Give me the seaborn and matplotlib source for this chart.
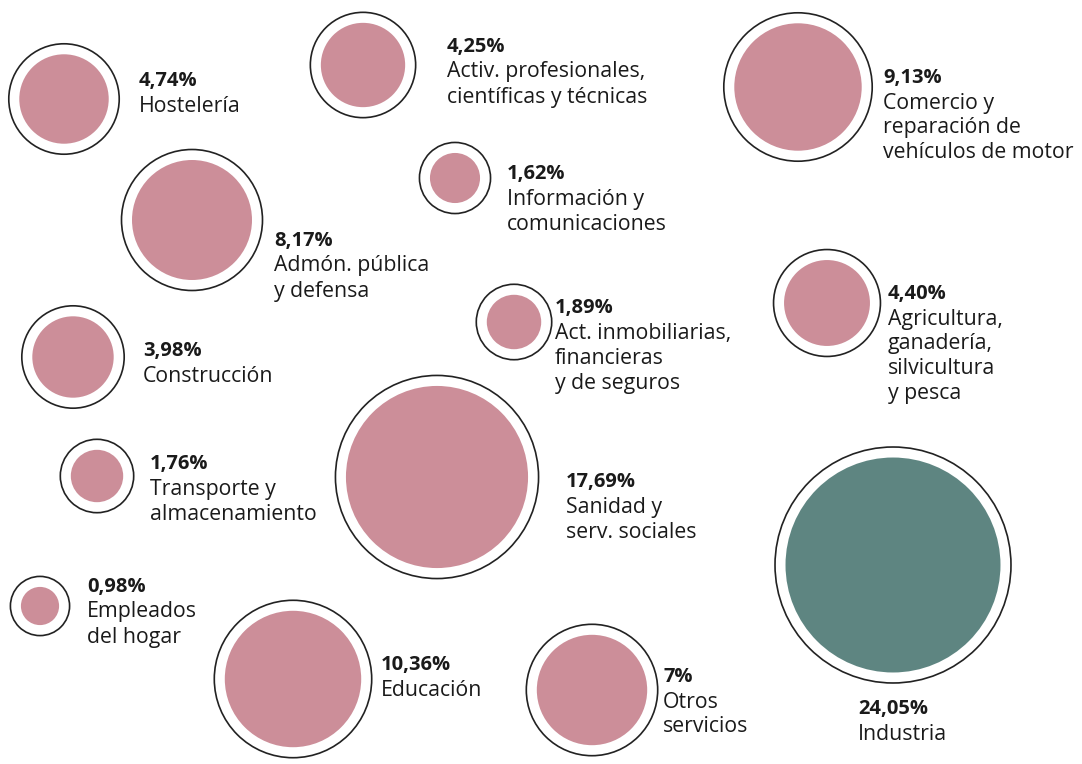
import matplotlib
matplotlib.use("Agg")
import matplotlib.pyplot as plt
import numpy as np
import pandas as pd
import seaborn as sns

# Datos: peso de cada sector (%)
sectores = [
    "Hostelería",
    "Activ. profesionales,\ncientíficas y técnicas",
    "Comercio y\nreparación de\nvehículos de motor",
    "Información y\ncomunicaciones",
    "Admón. pública\ny defensa",
    "Act. inmobiliarias,\nfinancieras\ny de seguros",
    "Agricultura,\nganadería,\nsilvicultura\ny pesca",
    "Construcción",
    "Transporte y\nalmacenamiento",
    "Sanidad y\nserv. sociales",
    "Industria",
    "Empleados\ndel hogar",
    "Educación",
    "Otros\nservicios",
]
porcentajes = [4.74, 4.25, 9.13, 1.62, 8.17, 1.89, 4.40, 3.98, 1.76, 17.69, 24.05, 0.98, 10.36, 7.0]
etiquetas_pct = ["4,74%", "4,25%", "9,13%", "1,62%", "8,17%", "1,89%", "4,40%",
                 "3,98%", "1,76%", "17,69%", "24,05%", "0,98%", "10,36%", "7%"]
destacado = ["no"] * 10 + ["si"] + ["no"] * 3

# Disposición de las burbujas (px) y de los textos
burbuja_x = [64, 363, 798, 455, 192, 514, 827, 73, 97, 437, 893, 40, 293, 592]
burbuja_y = [99, 65, 87, 178, 220, 322, 303, 357, 476, 477, 565, 606, 679, 690]
texto_x = [139, 447, 883, 507, 274, 555, 888, 143, 150, 566, 858, 87, 381, 663]
texto_y = [81, 47, 78, 174, 241, 308, 294, 351, 464, 482, 709, 587, 665, 677]

ROSA = "#cc8e99"
VERDE = "#5e8581"
K = 19.3       # escala del radio interior (px)
EXP = 0.54     # exponente de la escala de radio
ANILLO = 10.5  # separacion del anillo exterior
DPI = 100

df = pd.DataFrame({
    "sector": sectores,
    "pct": porcentajes,
    "x": burbuja_x,
    "y": burbuja_y,
    "destacado": destacado,
})
r_int = K * df["pct"].to_numpy() ** EXP
r_ext = r_int + ANILLO
# tamaño de marcador en puntos^2 a partir del radio en px
s_int = (2 * r_int * 72 / DPI) ** 2
s_ext = (2 * r_ext * 72 / DPI) ** 2

sns.set_theme(style="white")
plt.rcParams["font.family"] = ["Open Sans", "DejaVu Sans"]

fig = plt.figure(figsize=(10.82, 7.64), dpi=DPI)
ax = fig.add_axes([0, 0, 1, 1])

sns.scatterplot(data=df, x="x", y="y", s=s_ext, color="white",
                edgecolor="#222222", linewidth=1.2, ax=ax, legend=False)
sns.scatterplot(data=df, x="x", y="y", hue="destacado",
                palette={"no": ROSA, "si": VERDE}, s=s_int,
                linewidth=0, ax=ax, legend=False)

for i in range(len(df)):
    ax.text(texto_x[i], texto_y[i], etiquetas_pct[i], fontsize=14.5,
            fontweight="bold", color="#1a1a1a", ha="left", va="center")
    for j, linea in enumerate(sectores[i].split("\n")):
        ax.text(texto_x[i], texto_y[i] + 25 + 25 * j, linea, fontsize=15.3,
                color="#1a1a1a", ha="left", va="center")

ax.set_xlim(0, 1082)
ax.set_ylim(764, 0)
ax.axis("off")

plt.savefig("out.png", dpi=DPI, facecolor="white")
plt.close()
